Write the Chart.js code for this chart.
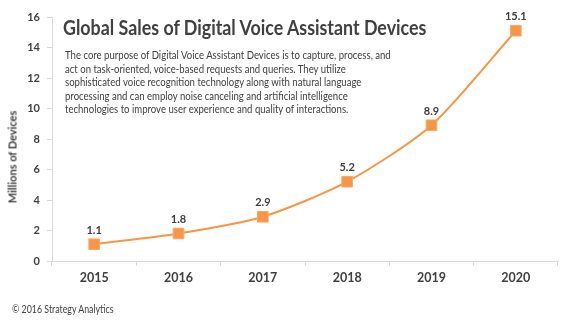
<!DOCTYPE html>
<html>
<head>
<meta charset="utf-8">
<script src="https://cdn.jsdelivr.net/npm/chart.js@4.4.1/dist/chart.umd.min.js"></script>
<style>
  html, body { margin: 0; padding: 0; background: #fff; }
  #wrap { position: relative; width: 573px; height: 322px; font-family: Lato, "Open Sans", sans-serif; color: #404040; }
  #salesChart { position: absolute; left: 0; top: 0; }
  .title { position: absolute; left: 63px; top: 15px; font-size: 20.5px; font-weight: bold; white-space: nowrap;
           transform: scaleX(0.87); transform-origin: left center; }
  .blurb { position: absolute; left: 65px; top: 48px; font-size: 11px; line-height: 13.6px; white-space: nowrap;
           transform: scaleX(0.87); transform-origin: left top; }
  .ytitle { position: absolute; left: 12px; top: 157px; font-size: 11px; font-weight: bold; white-space: nowrap;
            transform: translate(-50%, -50%) rotate(-90deg); }
  .source { position: absolute; left: 12px; top: 303px; font-size: 10.5px; white-space: nowrap;
            transform: scaleX(0.84); transform-origin: left center; }
</style>
</head>
<body>
<div id="wrap">
  <canvas id="salesChart" width="573" height="322"></canvas>
  <div class="title">Global Sales of Digital Voice Assistant Devices</div>
  <div class="blurb">The core purpose of Digital Voice Assistant Devices is to capture, process, and<br>act on task-oriented, voice-based requests and queries. They utilize<br>sophisticated voice recognition technology along with natural language<br>processing and can employ noise canceling and artificial intelligence<br>technologies to improve user experience and quality of interactions.</div>
  <div class="ytitle">Millions of Devices</div>
  <div class="source">© 2016 Strategy Analytics</div>
</div>
<script>
const years = ['2015', '2016', '2017', '2018', '2019', '2020'];
const devices = [1.1, 1.8, 2.9, 5.2, 8.9, 15.1];
const yTicks = [0, 2, 4, 6, 8, 10, 12, 14, 16];

const textColor = '#404040';
const axisColor = '#d9d9d9';
const fontFamily = 'Lato, "Open Sans", sans-serif';

// values printed above each marker
const valueLabels = {
  id: 'valueLabels',
  afterDatasetsDraw(chart) {
    const ctx = chart.ctx;
    const meta = chart.getDatasetMeta(0);
    ctx.save();
    ctx.font = 'bold 11px ' + fontFamily;
    ctx.fillStyle = textColor;
    ctx.textAlign = 'center';
    ctx.textBaseline = 'middle';
    meta.data.forEach((pt, i) => {
      ctx.fillText(devices[i].toFixed(1), pt.x, pt.y - 14);
    });
    ctx.restore();
  }
};

const salesChart = new Chart(document.getElementById('salesChart'), {
  type: 'line',
  data: {
    labels: years,
    datasets: [{
      data: devices,
      borderColor: '#F79646',
      borderWidth: 2,
      tension: 0.25,
      pointStyle: 'rect',
      pointRadius: 7.5,
      pointBackgroundColor: '#F79646',
      pointBorderColor: '#F9A764',
      pointBorderWidth: 1
    }]
  },
  options: {
    responsive: false,
    animation: false,
    layout: { padding: { left: 0, right: 15, top: 17, bottom: 31 } },
    plugins: {
      legend: { display: false },
      tooltip: { enabled: false }
    },
    scales: {
      x: {
        offset: true,
        grid: { drawOnChartArea: false, offset: true, tickLength: 5, color: axisColor },
        border: { color: axisColor },
        ticks: { color: textColor, font: { family: fontFamily, size: 12.5, weight: 'bold' }, padding: 4 },
        afterFit(scale) { scale.height = 30; }
      },
      y: {
        min: 0,
        max: 16,
        afterBuildTicks(scale) { scale.ticks = yTicks.map(v => ({ value: v })); },
        grid: { drawOnChartArea: false, tickLength: 5, color: axisColor },
        border: { color: axisColor },
        ticks: { color: textColor, font: { family: fontFamily, size: 11, weight: 'bold' }, padding: 7 },
        afterFit(scale) { scale.width = 52; }
      }
    }
  },
  plugins: [valueLabels]
});
</script>
</body>
</html>
